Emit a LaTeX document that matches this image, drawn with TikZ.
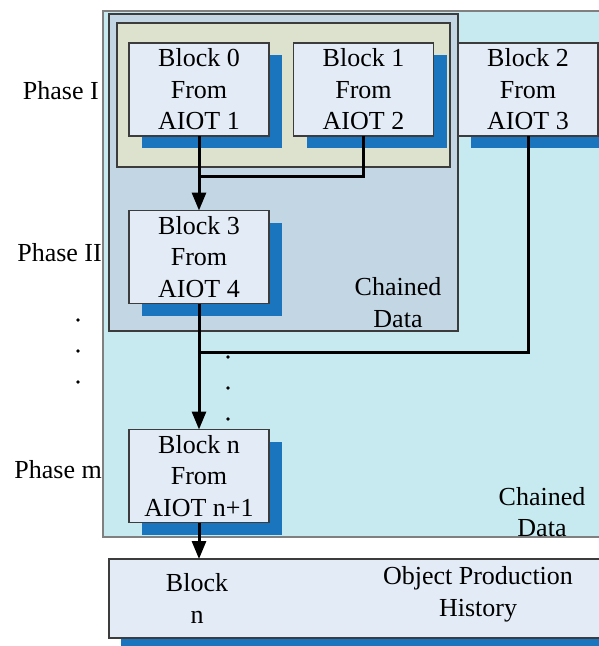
\documentclass[tikz,border=0pt]{standalone}
\usepackage{fontspec}
\setmainfont{Liberation Serif}
\usetikzlibrary{arrows.meta,shadows}
\definecolor{outercyan}{HTML}{C6EAF0}
\definecolor{midblue}{HTML}{C3D6E4}
\definecolor{olive}{HTML}{DCE2CD}
\definecolor{blockfill}{HTML}{E3ECF6}
\definecolor{shadowblue}{HTML}{1B75BE}
\definecolor{edgegray}{HTML}{3C3C3C}
\tikzset{
  boxframe/.style={draw=edgegray, line width=1.2pt, inner sep=0pt, outer sep=0pt},
  blockbox/.style={boxframe, fill=blockfill, minimum width=140pt, minimum height=93pt,
    align=center, font=\fontsize{26}{31.5}\selectfont,
    drop shadow={shadow xshift=13pt, shadow yshift=-12pt, fill=shadowblue, opacity=1}},
  lbl/.style={align=center, inner sep=0pt, font=\fontsize{26}{31.5}\selectfont},
  arr/.style={line width=3pt, -{Triangle[length=18pt,width=14pt]}},
  wire/.style={line width=3pt},
  dotmark/.style={circle, fill=black, inner sep=0pt, minimum size=3.6pt}
}
\begin{document}
\begin{tikzpicture}[x=1pt,y=-1pt]
\useasboundingbox (0,0) rectangle (599,646);
\clip (0,0) rectangle (599,646);
% containers
\node[boxframe, fill=outercyan, draw=gray, minimum width=507pt, minimum height=526pt] (outer) at (356.5,274) {};
\node[boxframe, fill=midblue, minimum width=349pt, minimum height=317pt] (mid) at (283.5,172.5) {};
\node[boxframe, fill=olive, minimum width=333pt, minimum height=144pt] (inner) at (283.5,95) {};
% blocks
\node[blockbox] (b0) at (199,89.5) {Block 0\\From\\AIOT 1};
\node[blockbox] (b1) at (363.5,89.5) {Block 1\\From\\AIOT 2};
\node[blockbox] (b2) at (528,89.5) {Block 2\\From\\AIOT 3};
\node[blockbox] (b3) at (199,257) {Block 3\\From\\AIOT 4};
\node[blockbox] (bn) at (199,476) {Block n\\From\\AIOT n+1};
% bottom history box
\node[boxframe, fill=blockfill, minimum width=501pt, minimum height=79pt,
  drop shadow={shadow xshift=12pt, shadow yshift=-12pt, fill=shadowblue, opacity=1}] (hist) at (359.5,598.5) {};
% labels
\node[lbl] (cd1) at (398,302.5) {Chained\\Data};
\node[lbl] (cd2) at (542,512) {Chained\\Data};
\node[lbl] (hb) at (197,598.5) {Block\\n};
\node[lbl] (hop) at (478,594.5) {Object Production\\History};
\node[lbl, anchor=east] (p1) at (99,91) {Phase I};
\node[lbl, anchor=east] (p2) at (102,253) {Phase II};
\node[lbl, anchor=east] (pm) at (102,470) {Phase m};
% dots
\node[dotmark] (d1) at (78,320) {};
\node[dotmark] (d2) at (78,351) {};
\node[dotmark] (d3) at (78,382) {};
\node[dotmark] (e1) at (228,357) {};
\node[dotmark] (e2) at (228,388) {};
\node[dotmark] (e3) at (228,419) {};
% connectors
\coordinate (j1) at (199,176);
\coordinate (j2) at (199,352);
\draw[wire] (b1.south) |- (j1);
\draw[wire] (b2.south) |- (j2);
\draw[arr] (b0.south) -- (b3.north);
\draw[arr] (b3.south) -- (bn.north);
\draw[arr] (bn.south) -- (bn.south |- hist.north);
\end{tikzpicture}
\end{document}
